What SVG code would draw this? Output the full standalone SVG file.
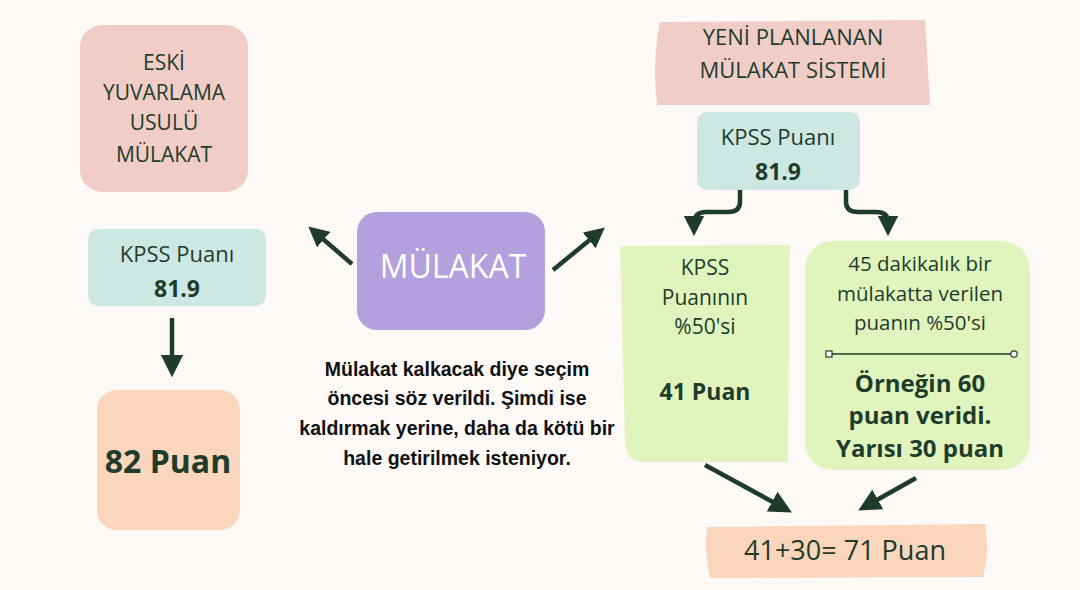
<svg xmlns="http://www.w3.org/2000/svg" width="1080" height="590" viewBox="0 0 1080 590">
<defs>
<marker id="ah" viewBox="0 0 10 10" refX="5" refY="5" markerWidth="4.5" markerHeight="4.5" orient="auto"><path d="M0,0 L10,5 L0,10 z" fill="#1f3b2c"/></marker>
<marker id="ah2" viewBox="0 0 10 10" refX="5" refY="5" markerWidth="5" markerHeight="5" orient="auto"><path d="M0,0 L10,5 L0,10 z" fill="#1f3b2c"/></marker>
</defs>
<style>
.h{font-family:"Open Sans","Liberation Sans",sans-serif;fill:#1f3b2c;text-anchor:middle}
.b{font-family:"Open Sans","Liberation Sans",sans-serif;font-weight:bold;fill:#1f3b2c;text-anchor:middle}
.p{font-family:"Liberation Sans",Arial,sans-serif;font-weight:bold;fill:#111;text-anchor:middle;font-size:19.5px}
.c{fill:none;stroke:#1f3b2c;stroke-width:4.5}
</style>
<rect width="1080" height="590" fill="#fcf9f6"/>
<g id="eski"><rect x="80" y="25" width="168" height="167" rx="22" fill="#f1cdc8"/>
<text class="h" font-size="21"><tspan x="164" y="70">ESKİ</tspan><tspan x="164" y="100">YUVARLAMA</tspan><tspan x="164" y="130">USULÜ</tspan><tspan x="164" y="162">MÜLAKAT</tspan></text></g>
<g id="kpssL"><rect x="88" y="229" width="178" height="77" rx="10" fill="#cde8e2"/>
<text class="h" font-size="22" x="177" y="262">KPSS Puanı</text><text class="b" font-size="23" x="177" y="297">81.9</text></g>
<g id="p82"><rect x="97" y="390" width="143" height="140" rx="20" fill="#f9d6bc"/>
<text class="b" font-size="32" x="168" y="473">82 Puan</text></g>
<g id="mulakat"><rect x="357" y="212" width="188" height="118" rx="20" fill="#b3a1dd"/>
<text class="h" font-size="32" x="453" y="278" style="fill:#fff">MÜLAKAT</text></g>
<g id="note"><text class="p"><tspan x="457" y="376">Mülakat kalkacak diye seçim</tspan><tspan x="457" y="405">öncesi söz verildi. Şimdi ise</tspan><tspan x="457" y="435">kaldırmak yerine, daha da kötü bir</tspan><tspan x="457" y="465">hale getirilmek isteniyor.</tspan></text></g>
<g id="yeni"><path d="M660,22 L925,20 L930,105 L657,105 Q652,60 660,22z" fill="#f1cdc8"/>
<text class="h" font-size="22"><tspan x="793" y="45">YENİ PLANLANAN</tspan><tspan x="793" y="78">MÜLAKAT SİSTEMİ</tspan></text></g>
<g id="kpssR"><rect x="697" y="112" width="163" height="78" rx="10" fill="#cde8e2"/>
<text class="h" font-size="22" x="778" y="145">KPSS Puanı</text><text class="b" font-size="23" x="778" y="180">81.9</text></g>
<g id="g1"><path d="M620,246 L790,245 L788,462 L640,462 Q625,460 625,440z" fill="#dff5bd"/>
<text class="h" font-size="21"><tspan x="705" y="275">KPSS</tspan><tspan x="705" y="305">Puanının</tspan><tspan x="705" y="334">%50'si</tspan></text>
<text class="b" font-size="23" x="705" y="400">41 Puan</text></g>
<g id="g2"><rect x="805" y="241" width="225" height="229" rx="28" fill="#dff5bd"/>
<text class="h" font-size="20.5"><tspan x="920" y="271">45 dakikalık bir</tspan><tspan x="920" y="301">mülakatta verilen</tspan><tspan x="920" y="330">puanın %50'si</tspan></text>
<line x1="830" y1="354" x2="1014" y2="354" stroke="#1f3b2c" stroke-width="1.5"/>
<rect x="826" y="351" width="6" height="6" fill="#fff" stroke="#1f3b2c" stroke-width="1.2"/><circle cx="1014" cy="354" r="3.2" fill="#fff" stroke="#1f3b2c" stroke-width="1.2"/>
<text class="b" font-size="24"><tspan x="920" y="392">Örneğin 60</tspan><tspan x="920" y="424">puan veridi.</tspan><tspan x="920" y="457">Yarısı 30 puan</tspan></text></g>
<g id="sum"><path d="M707,527 L985,524 Q990,550 983,577 L710,578 Q704,552 707,527z" fill="#f9d6bc"/>
<text class="h" font-size="27" x="845" y="560">41+30= 71 Puan</text></g>
<g id="connectors">
<line class="c" x1="172" y1="318" x2="172" y2="366" stroke-width="2.5" marker-end="url(#ah2)"/>
<line class="c" x1="352" y1="264" x2="316" y2="233" marker-end="url(#ah)"/>
<line class="c" x1="553" y1="270" x2="597" y2="234" marker-end="url(#ah)"/>
<path class="c" d="M740,190 L740,202 Q740,212 728,212 L706,212 Q694,212 694,224 L694,226" marker-end="url(#ah)"/>
<path class="c" d="M846,190 L846,202 Q846,212 858,212 L876,212 Q888,212 888,222 L888,226" marker-end="url(#ah)"/>
<line class="c" x1="705" y1="465" x2="782" y2="507" stroke-width="2.5" marker-end="url(#ah2)"/>
<line class="c" x1="916" y1="478" x2="868" y2="505" stroke-width="2.5" marker-end="url(#ah2)"/>
</g>
</svg>
